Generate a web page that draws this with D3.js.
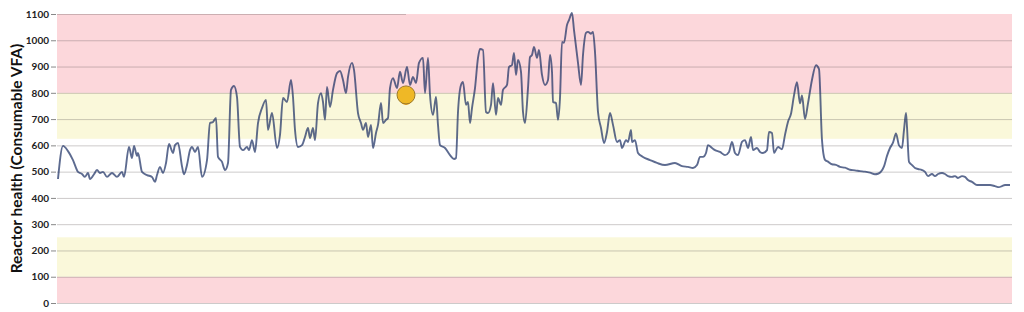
<!DOCTYPE html>
<meta charset="utf-8">
<script src="https://d3js.org/d3.v7.min.js"></script>
<style>
  body { margin: 0; background: #fff; }
  text { font-family: Lato, "Open Sans", sans-serif; }
</style>
<div id="my_dataviz"></div>
<script>

// y ticks and health bands
var yTicks = [0, 100, 200, 300, 400, 500, 600, 700, 800, 900, 1000, 1100];
var bandFrom = [0, 100, 625, 800];
var bandTo = [100, 250, 800, 1100];
var bandKind = ["bad", "warn", "warn", "bad"];

// readings: sample number and consumable VFA (ten per row)
var sample = [
  1, 6, 11, 16, 21, 25, 28, 31, 33, 37,
  40, 43, 46, 50, 55, 60, 65, 67, 72, 75,
  77, 80, 81, 85, 90, 95, 98, 100, 103, 106,
  109, 112, 116, 118, 121, 125, 127, 130, 133, 135,
  138, 141, 145, 150, 153, 156, 159, 161, 165, 168,
  171, 174, 177, 180, 183, 186, 190, 192, 195, 198,
  201, 205, 209, 211, 215, 220, 223, 226, 230, 234,
  236, 238, 241, 245, 248, 251, 253, 256, 258, 261,
  264, 266, 268, 270, 273, 276, 280, 283, 286, 289,
  291, 295, 297, 301, 304, 306, 309, 311, 314, 316,
  319, 321, 324, 326, 329, 331, 333, 336, 340, 343,
  346, 350, 353, 356, 359, 362, 366, 368, 371, 373,
  376, 379, 381, 383, 388, 393, 397, 399, 401, 404,
  406, 409, 411, 413, 415, 418, 421, 423, 426, 429,
  431, 434, 436, 439, 441, 444, 446, 450, 452, 455,
  457, 459, 461, 464, 466, 468, 471, 473, 475, 477,
  480, 482, 485, 488, 491, 493, 495, 496, 499, 501,
  503, 505, 507, 510, 512, 515, 517, 521, 524, 526,
  529, 531, 534, 536, 538, 541, 544, 547, 550, 553,
  556, 560, 563, 565, 569, 571, 574, 575, 578, 581,
  586, 593, 600, 608, 618, 625, 631, 636, 640, 643,
  646, 649, 651, 655, 658, 663, 668, 672, 675, 678,
  681, 685, 688, 691, 694, 696, 700, 703, 706, 710,
  712, 715, 717, 721, 725, 728, 731, 734, 737, 740,
  743, 745, 748, 751, 755, 759, 762, 765, 768, 771,
  775, 779, 783, 788, 793, 798, 803, 808, 813, 818,
  821, 824, 827, 830, 833, 836, 839, 842, 845, 847,
  849, 850, 852, 855, 858, 861, 865, 868, 871, 875,
  878, 881, 885, 888, 891, 895, 898, 901, 905, 908,
  911, 915, 920, 926, 933, 938, 942, 945, 948, 953
];
var vfa = [
  472, 598, 578, 544, 499, 491, 480, 495, 472, 490,
  506, 495, 499, 480, 495, 480, 499, 480, 594, 552,
  598, 560, 571, 499, 487, 480, 461, 487, 518, 495,
  533, 605, 571, 601, 609, 520, 490, 525, 582, 594,
  575, 594, 480, 544, 685, 689, 704, 556, 537, 506,
  533, 811, 826, 784, 594, 582, 594, 582, 620, 575,
  685, 742, 773, 659, 723, 590, 640, 780, 765, 849,
  784, 659, 594, 601, 632, 666, 628, 666, 620, 761,
  799, 765, 697, 822, 746, 811, 875, 883, 849, 799,
  860, 914, 887, 723, 685, 659, 685, 632, 678, 590,
  647, 678, 761, 685, 697, 704, 818, 856, 818, 880,
  837, 898, 830, 860, 837, 914, 933, 799, 933, 792,
  716, 784, 678, 601, 590, 563, 548, 552, 727, 830,
  841, 754, 765, 685, 742, 818, 933, 967, 963, 727,
  723, 754, 837, 716, 780, 754, 811, 830, 898, 906,
  952, 868, 925, 880, 727, 685, 818, 936, 944, 975,
  933, 963, 868, 830, 849, 944, 880, 765, 761, 697,
  780, 994, 990, 1058, 1077, 1104, 1039, 914, 830, 944,
  1028, 1032, 1025, 1032, 955, 727, 666, 609, 651, 723,
  678, 613, 620, 590, 620, 613, 659, 613, 620, 571,
  556, 544, 533, 525, 533, 521, 518, 514, 525, 556,
  556, 571, 601, 590, 582, 575, 563, 575, 613, 571,
  563, 613, 620, 590, 632, 582, 590, 575, 571, 582,
  651, 647, 571, 594, 585, 640, 690, 720, 790, 840,
  760, 790, 700, 760, 850, 905, 890, 620, 545, 538,
  528, 526, 518, 515, 507, 505, 502, 500, 496, 490,
  492, 500, 520, 560, 590, 610, 645, 600, 590, 659,
  723, 670, 537, 525, 514, 510, 506, 499, 483, 491,
  483, 491, 495, 491, 483, 480, 483, 476, 483, 480,
  468, 461, 449, 449, 449, 445, 441, 445, 449, 449
];

var data = sample.map(function(s, i) { return {s: s, v: vfa[i]}; });

// highlighted reading
var current = {s: 349, v: 792};

var margin = {top: 14, right: 12, bottom: 9, left: 57},
    width = 1024 - margin.left - margin.right,
    height = 312 - margin.top - margin.bottom;

var svg = d3.select("#my_dataviz")
  .append("svg")
    .attr("width", width + margin.left + margin.right)
    .attr("height", height + margin.top + margin.bottom)
  .append("g")
    .attr("transform", "translate(" + margin.left + "," + margin.top + ")");

var x = d3.scaleLinear()
  .domain([0, 955])
  .range([0, width]);

var y = d3.scaleLinear()
  .domain([0, 1100])
  .range([height, 0]);

var bandColor = {bad: "#fcd7db", warn: "#faf8da"};

// coloured bands
svg.append("g")
  .selectAll("rect")
  .data(bandFrom)
  .enter().append("rect")
    .attr("x", 0)
    .attr("y", function(d, i) { return y(bandTo[i]); })
    .attr("width", width)
    .attr("height", function(d, i) { return y(d) - y(bandTo[i]); })
    .attr("fill", function(d, i) { return bandColor[bandKind[i]]; });

// gridlines (the top one only runs up to the current reading)
svg.append("g")
  .selectAll("line")
  .data(yTicks)
  .enter().append("line")
    .attr("x1", 0)
    .attr("x2", function(d) { return d === 1100 ? x(current.s) : width; })
    .attr("y1", function(d) { return y(d) + 0.5; })
    .attr("y2", function(d) { return y(d) + 0.5; })
    .attr("stroke", "#5a5050")
    .attr("stroke-opacity", 0.3)
    .attr("stroke-width", 1);

// y axis
var yAxis = svg.append("g")
  .call(d3.axisLeft(y).tickValues(yTicks).tickFormat(d3.format("d")).tickSize(5).tickPadding(3));
yAxis.select(".domain").remove();
yAxis.selectAll(".tick line").attr("stroke", "#888").attr("transform", "translate(-1,0)");
yAxis.selectAll(".tick text")
  .style("font-size", "10px")
  .style("font-weight", "bold")
  .attr("fill", "#222");

svg.append("text")
  .attr("transform", "rotate(-90)")
  .attr("y", 0 - margin.left + 22)
  .attr("x", 0 - (height / 2))
  .style("text-anchor", "middle")
  .style("font-size", "15.5px")
  .style("font-weight", "bold")
  .attr("fill", "#111")
  .text("Reactor health (Consumable VFA)");

// the reading line
var line = d3.line()
  .x(function(d) { return x(d.s); })
  .y(function(d) { return y(d.v); })
  .curve(d3.curveMonotoneX);

svg.append("path")
  .datum(data)
  .attr("fill", "none")
  .attr("stroke", "#1f3265")
  .attr("stroke-opacity", 0.72)
  .attr("stroke-width", 1.9)
  .attr("stroke-linejoin", "round")
  .attr("d", line);

// current reading marker
svg.append("circle")
  .attr("cx", x(current.s))
  .attr("cy", y(current.v) + 4)
  .attr("r", 6)
  .attr("fill", "#e8a020");
svg.append("circle")
  .attr("cx", x(current.s))
  .attr("cy", y(current.v))
  .attr("r", 9)
  .attr("fill", "#efb826")
  .attr("stroke", "#9c7a2a")
  .attr("stroke-width", 1);

</script>
